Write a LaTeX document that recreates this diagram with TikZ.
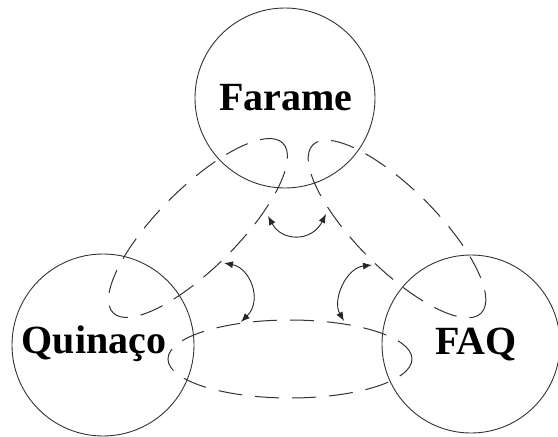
\documentclass[tikz,border=0pt]{standalone}
\usepackage{fontspec}
\setmainfont{Liberation Serif}
\usetikzlibrary{arrows.meta,shapes.geometric}
\begin{document}
\begin{tikzpicture}[x=1pt,y=-1pt,
  ring/.style={circle,draw=black!80,line width=0.9pt,minimum size=#1,inner sep=0pt},
  loopline/.style={ellipse,draw=black!80,line width=1pt,dash pattern=on 24pt off 13pt,inner sep=0pt},
  titletext/.style={font=\fontsize{40}{40}\selectfont\bfseries,anchor=base,inner sep=0pt},
  twoway/.style={{Latex[length=9pt,width=7pt]}-{Latex[length=9pt,width=7pt]},line width=0.9pt,draw=black!85}]
\useasboundingbox (0,0) rectangle (558,437);

% the three circles
\node[ring=180pt] (cF) at (285,98) {};
\node[ring=182pt] (cQ) at (103,345) {};
\node[ring=178pt] (cA) at (471,344) {};

% their names
\node[titletext] (tF) at (286,110) {Farame};
\node[titletext] (tQ) at (94,353) {Quinaço};
\node[titletext] (tA) at (476,354) {FAQ};

% dashed loops joining each pair of circles
\node[loopline,minimum width=240pt,minimum height=80pt,rotate=45] (lFQ) at (198,228) {};
\node[loopline,minimum width=238pt,minimum height=80pt,rotate=-45] (lFA) at (397,229) {};
\node[loopline,minimum width=244pt,minimum height=78pt] (lQA) at (290,359) {};

% ends of the curved double arrows
\coordinate (p1) at (268,216);
\coordinate (p2) at (326,214);
\coordinate (p3) at (224,263);
\coordinate (p4) at (241,322);
\coordinate (p5) at (372,265);
\coordinate (p6) at (344,321);

\draw[twoway] (p1) .. controls (282,242) and (312,242) .. (p2);
\draw[twoway] (p3) .. controls (250,268) and (263,300) .. (p4);
\draw[twoway] (p5) .. controls (346,268) and (332,300) .. (p6);
\end{tikzpicture}
\end{document}
